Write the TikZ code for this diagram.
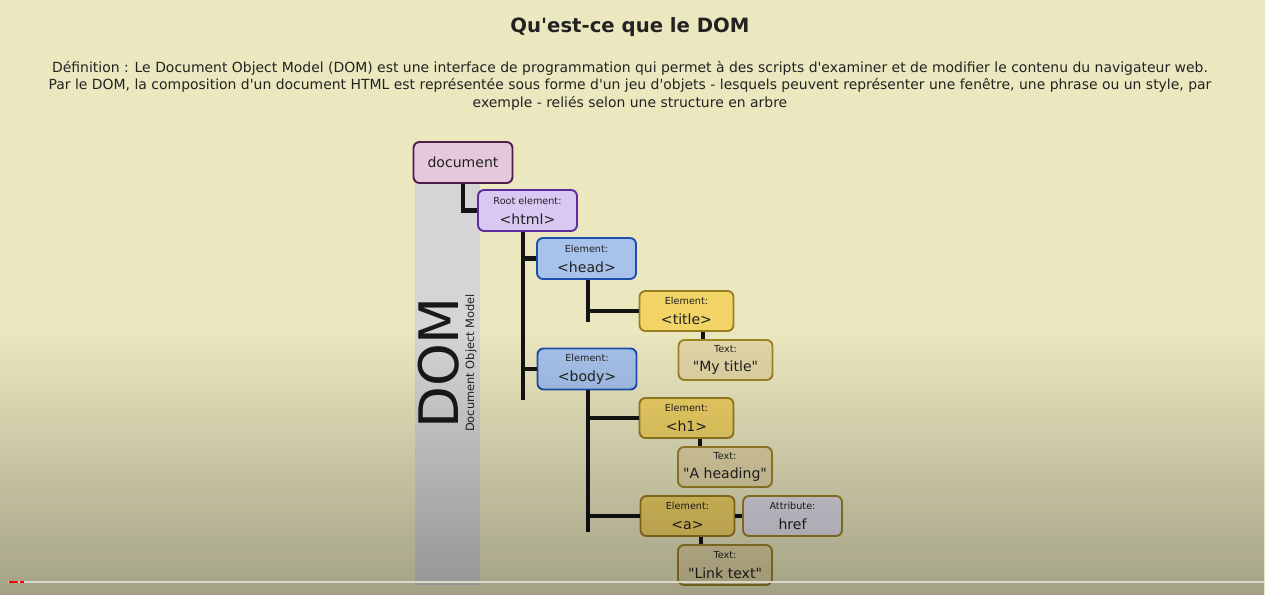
\documentclass[tikz,border=0pt]{standalone}
\usepackage{fontspec}
\newfontfamily\domfont{DejaVu Sans}
\usetikzlibrary{fadings}
\definecolor{bgyellow}{HTML}{EBE8C0}
\definecolor{bandgrey}{HTML}{D5D5D6}
\definecolor{textgrey}{HTML}{222222}
\definecolor{docfill}{HTML}{E6C8DC}
\definecolor{docline}{HTML}{4E1E4C}
\definecolor{htmlfill}{HTML}{D9C9F2}
\definecolor{htmlline}{HTML}{5E2CA0}
\definecolor{elemfill}{HTML}{A7C3EC}
\definecolor{elemline}{HTML}{1F4FAE}
\definecolor{tagfill}{HTML}{F1D366}
\definecolor{tagline}{HTML}{9A7E22}
\definecolor{textfill}{HTML}{E4D7A8}
\definecolor{textline}{HTML}{9E8628}
\definecolor{attrfill}{HTML}{E2DEEA}
\definecolor{barline}{HTML}{D8D8CC}
\newcommand{\labelfont}{\fontsize{5.5}{6}\selectfont}
\newcommand{\elemnode}[6]{\node[#2] (#1) at ( #3 , #4 ) {{\labelfont #5}\\#6};}
\tikzset{
  box/.style={draw, line width=1.1pt, rounded corners=3.4pt, minimum width=1.98cm,
    minimum height=0.82cm, inner sep=0pt, align=center, text=textgrey,
    font=\domfont\fontsize{8}{11.3}\selectfont},
  docbox/.style={box, fill=docfill, draw=docline},
  htmlbox/.style={box, fill=htmlfill, draw=htmlline},
  elembox/.style={box, fill=elemfill, draw=elemline},
  tagbox/.style={box, fill=tagfill, draw=tagline, minimum width=1.88cm, minimum height=0.8cm},
  textbox/.style={box, fill=textfill, draw=textline, minimum width=1.88cm, minimum height=0.8cm},
  attrbox/.style={box, fill=attrfill, draw=textline, minimum height=0.8cm},
  tree/.style={line width=2.8pt, draw=black!92},
}
\begin{document}
\begin{tikzpicture}[x=0.02cm, y=-0.02cm]
        \useasboundingbox (0,0) rectangle (1265,595);
        \fill[bgyellow] (0,0) rectangle (1265,595);

        % heading
        \node[font=\domfont\bfseries\fontsize{11.2}{13}\selectfont, text=textgrey] (heading) at (630,27) {Qu'est-ce que le DOM};
        \node[font=\domfont\fontsize{7.94}{9.9}\selectfont, text=textgrey, align=center] (definition) at (630,85.5)
          {Définition : Le Document Object Model (DOM) est une interface de programmation qui permet à des scripts d'examiner et de modifier le contenu du navigateur web.\\
           Par le DOM, la composition d'un document HTML est représentée sous forme d'un jeu d'objets - lesquels peuvent représenter une fenêtre, une phrase ou un style, par\\
           exemple - reliés selon une structure en arbre};

        % side band
        \fill[bandgrey] (415,160) rectangle (480,585);
        \node[rotate=90, font=\domfont\fontsize{31}{31}\selectfont, text=black!90] (dom) at (439,363) {DOM};
        \node[rotate=90, font=\domfont\fontsize{6.5}{7}\selectfont, text=textgrey] (domname) at (471,363) {Document Object Model};

        % root
        \node[docbox] (document) at ( 463 , 162.5 ) {document};
        \elemnode{html}{htmlbox}{527.5}{210.5}{Root element:}{<html>}
        % head
        \elemnode{head}{elembox}{586.5}{258.5}{Element:}{<head>}
        \elemnode{title}{tagbox}{686.5}{311}{Element:}{<title>}
        \elemnode{mytitle}{textbox}{725.5}{360}{Text:}{"My title"}
        % body
        \elemnode{body}{elembox}{587}{369}{Element:}{<body>}
        \elemnode{h1}{tagbox}{686.5}{418}{Element:}{<h1>}
        \elemnode{aheading}{textbox}{725}{467}{Text:}{"A heading"}
        \elemnode{a}{tagbox}{687.5}{516}{Element:}{<a>}
        \elemnode{href}{attrbox}{792.5}{516}{Attribute:}{href}
        \elemnode{linktext}{textbox}{725}{565}{Text:}{"Link text"}

        % trunk ends
        \coordinate (htmlend) at (523,400);
        \coordinate (headend) at (588,322);
        \coordinate (bodyend) at (588,532);

        % connectors
        \draw[tree] (document.south) |- (html.west);
        \draw[tree] (htmlend |- html.south) -- (htmlend);
        \draw[tree] (htmlend |- head.west) -- (head.west);
        \draw[tree] (htmlend |- body.west) -- (body.west);
        \draw[tree] (headend |- head.south) -- (headend);
        \draw[tree] (headend |- title.west) -- (title.west);
        \draw[tree] (bodyend |- body.south) -- (bodyend);
        \draw[tree] (bodyend |- h1.west) -- (h1.west);
        \draw[tree] (bodyend |- a.west) -- (a.west);
        \draw[tree] ([xshift=0.33cm]title.south) -- ([xshift=0.33cm]title.south |- mytitle.north);
        \draw[tree] ([xshift=0.27cm]h1.south) -- ([xshift=0.27cm]h1.south |- aheading.north);
        \draw[tree] ([xshift=0.27cm]a.south) -- ([xshift=0.27cm]a.south |- linktext.north);
        \draw[tree] (a.east) -- (href.west);

        % shade
        \fill[black, opacity=0.3, path fading=north] (0,330) rectangle (1265,595);
        \draw[barline, line width=1.6pt] (8,582) -- (1265,582);
        \draw[red, line width=1.6pt] (9,582) -- (18,582) (20,582) -- (24,582);
    \end{tikzpicture}
\end{document}
